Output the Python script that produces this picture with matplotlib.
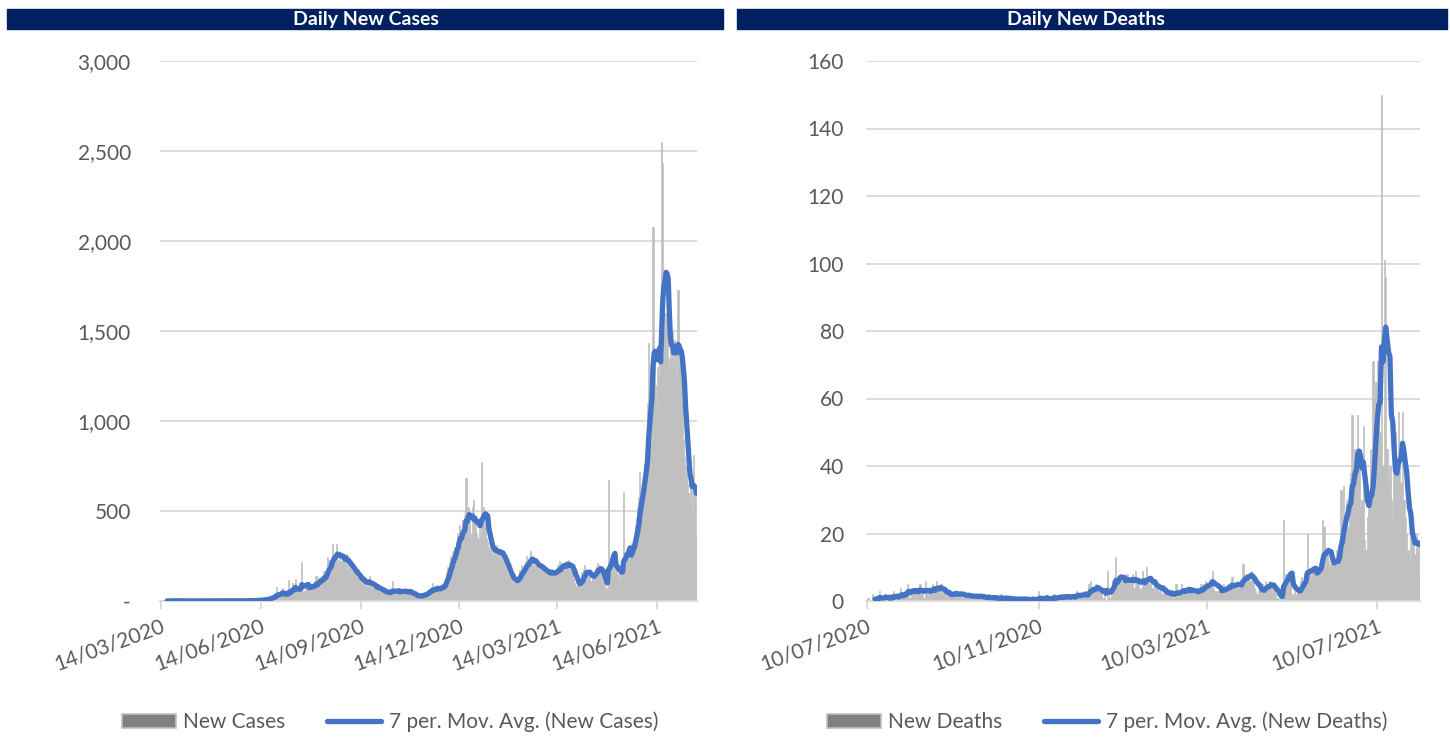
import matplotlib
matplotlib.use("Agg")
import matplotlib.pyplot as plt
import matplotlib.dates as mdates
from matplotlib.patches import Patch, Rectangle
from matplotlib.lines import Line2D
from matplotlib.ticker import FuncFormatter, MultipleLocator
import pandas as pd

# daily new cases from 14/03/2020, one row per week
cases_daily = [
    2, 0, 0, 0, 1, 0, 0,
    0, 1, 3, 0, 1, 2, 0,
    3, 1, 0, 0, 0, 1, 2,
    0, 0, 1, 0, 0, 0, 0,
    0, 0, 0, 0, 0, 0, 0,
    0, 0, 0, 0, 0, 0, 0,
    0, 0, 0, 0, 0, 0, 0,
    0, 0, 0, 0, 0, 0, 0,
    0, 0, 2, 0, 1, 0, 0,
    0, 3, 0, 0, 1, 2, 0,
    1, 0, 2, 0, 0, 1, 0,
    2, 0, 5, 3, 0, 4, 0,
    3, 1, 2, 8, 4, 0, 3,
    5, 7, 2, 9, 10, 4, 8,
    10, 15, 20, 12, 25, 30, 18,
    30, 25, 78, 35, 20, 45, 38,
    70, 35, 25, 40, 30, 22, 117,
    45, 60, 100, 40, 50, 122, 48,
    55, 60, 75, 62, 217, 48, 58,
    70, 85, 65, 100, 90, 55, 80,
    90, 75, 110, 140, 70, 130, 95,
    120, 140, 110, 165, 150, 125, 180,
    245, 230, 180, 230, 315, 210, 260,
    265, 317, 230, 210, 275, 220, 240,
    250, 230, 200, 260, 190, 210, 180,
    200, 170, 150, 190, 140, 130, 160,
    120, 140, 100, 110, 90, 130, 95,
    85, 110, 95, 140, 75, 90, 80,
    70, 90, 60, 75, 85, 55, 65,
    50, 60, 45, 55, 40, 50, 48,
    40, 55, 35, 110, 45, 50, 42,
    45, 60, 50, 70, 55, 40, 52,
    50, 65, 45, 55, 40, 62, 48,
    35, 30, 28, 40, 25, 20, 30,
    25, 35, 30, 28, 40, 45, 38,
    45, 60, 50, 70, 55, 100, 48,
    60, 55, 90, 70, 65, 80, 75,
    75, 90, 85, 130, 160, 190, 175,
    210, 250, 200, 280, 300, 260, 330,
    380, 350, 420, 400, 300, 450, 380,
    480, 683, 400, 520, 450, 350, 380,
    520, 560, 450, 420, 380, 350, 400,
    360, 772, 480, 520, 450, 410, 350,
    330, 300, 280, 320, 250, 270, 290,
    260, 310, 240, 290, 270, 230, 280,
    250, 220, 180, 200, 150, 140, 160,
    130, 110, 120, 95, 115, 100, 125,
    140, 170, 150, 200, 180, 160, 190,
    220, 250, 200, 230, 280, 210, 240,
    200, 180, 230, 190, 210, 170, 200,
    180, 160, 200, 150, 170, 140, 160,
    150, 170, 140, 180, 160, 130, 155,
    170, 200, 180, 220, 160, 210, 190,
    210, 180, 220, 190, 230, 170, 200,
    190, 160, 120, 100, 90, 80, 95,
    70, 110, 160, 140, 180, 200, 150,
    170, 120, 140, 160, 110, 150, 130,
    150, 180, 190, 210, 200, 170, 160,
    130, 110, 90, 70, 60, 80, 672,
    180, 220, 160, 250, 200, 170, 210,
    130, 150, 120, 200, 140, 180, 606,
    220, 180, 270, 230, 260, 300, 320,
    320, 300, 380, 420, 460, 520, 580,
    717, 560, 620, 700, 760, 820, 900,
    1100, 1433, 1150, 1250, 1200, 2078, 1400,
    1200, 1100, 1300, 1250, 1500, 1550, 2550,
    2433, 1650, 1500, 1600, 1450, 1350, 1300,
    1400, 1350, 1500, 1300, 1450, 1400, 1250,
    1728, 1300, 1350, 1250, 1200, 900, 800,
    750, 700, 650, 600, 550, 700, 500,
    811, 650, 620, 360,
]

# daily new deaths from 10/07/2020, one row per week
deaths_daily = [
    0, 1, 0, 0, 2, 0, 1,
    0, 1, 3, 0, 1, 0, 2,
    1, 0, 2, 1, 0, 3, 1,
    2, 1, 0, 4, 2, 1, 3,
    2, 5, 3, 1, 4, 3, 2,
    4, 3, 2, 5, 3, 2, 1,
    6, 2, 3, 4, 2, 5, 3,
    3, 6, 4, 2, 5, 3, 2,
    2, 1, 3, 2, 1, 2, 3,
    2, 3, 1, 2, 2, 1, 3,
    1, 2, 1, 2, 1, 1, 2,
    1, 2, 1, 1, 2, 1, 1,
    1, 1, 0, 2, 1, 1, 1,
    1, 0, 1, 1, 0, 2, 1,
    0, 1, 1, 0, 1, 0, 1,
    1, 0, 0, 1, 1, 0, 1,
    0, 1, 0, 1, 0, 0, 1,
    1, 0, 0, 0, 3, 1, 0,
    1, 0, 1, 1, 0, 1, 1,
    1, 2, 0, 1, 1, 1, 2,
    1, 1, 2, 1, 0, 2, 1,
    2, 1, 1, 3, 2, 1, 2,
    2, 1, 3, 2, 1, 5, 6,
    3, 4, 2, 5, 3, 4, 3,
    2, 1, 3, 0, 9, 2, 1,
    4, 6, 7, 13, 5, 6, 7,
    6, 5, 7, 6, 8, 5, 6,
    5, 8, 4, 9, 5, 6, 3,
    4, 9, 6, 5, 10, 7, 5,
    5, 4, 3, 6, 4, 5, 3,
    3, 2, 4, 2, 3, 1, 2,
    2, 3, 1, 2, 5, 2, 1,
    3, 5, 2, 4, 3, 3, 4,
    3, 2, 4, 2, 3, 3, 2,
    4, 5, 3, 5, 6, 4, 5,
    5, 6, 9, 4, 3, 2, 3,
    3, 4, 2, 5, 4, 3, 5,
    4, 5, 7, 3, 5, 4, 6,
    4, 5, 6, 11, 7, 8, 6,
    7, 6, 9, 8, 4, 3, 2,
    3, 4, 2, 5, 3, 6, 5,
    4, 6, 5, 3, 4, 2, 1,
    1, 0, 1, 0, 24, 8, 6,
    5, 7, 6, 2, 1, 3, 2,
    3, 4, 6, 7, 6, 8, 7,
    20, 6, 8, 7, 9, 10, 8,
    10, 9, 11, 12, 24, 22, 10,
    14, 12, 9, 11, 10, 13, 12,
    15, 12, 18, 33, 20, 34, 25,
    30, 22, 33, 38, 55, 40, 45,
    38, 55, 40, 28, 30, 52, 18,
    15, 25, 30, 45, 35, 71, 60,
    65, 71, 60, 50, 150, 40, 101,
    96, 45, 35, 40, 30, 25, 45,
    50, 40, 56, 45, 35, 56, 30,
    25, 20, 15, 12, 22, 19, 18,
    14, 20, 16, 8,
]

cases_start = "2020-03-14"
deaths_start = "2020-07-10"
cases_ticks = ["2020-03-14", "2020-06-14", "2020-09-14", "2020-12-14", "2021-03-14", "2021-06-14"]
deaths_ticks = ["2020-07-10", "2020-11-10", "2021-03-10", "2021-07-10"]

W, H = 1450, 738
NAVY = "#002060"
BAR = "#BFBFBF"
LINE = "#4472C4"
GRID = "#D9D9D9"
TEXT = "#595959"
FONT = "Lato"
FS = 15

plt.rcParams["font.family"] = [FONT, "DejaVu Sans"]

fig = plt.figure(figsize=(W / 100, H / 100), dpi=100)


def fig_box(x0, y0, x1, y1):
    # pixel box (top-left origin) -> figure fraction rect
    return [x0 / W, 1 - y1 / H, (x1 - x0) / W, (y1 - y0) / H]


def panel(box, start, values, ticks, ymax, ystep, fmt, title, banner, label, legend_cx, label_pad):
    ax = fig.add_axes(fig_box(*box))
    dates = pd.date_range(start, periods=len(values), freq="D")
    avg = pd.Series(values, index=dates).rolling(7).mean()

    ax.bar(dates, values, width=1.0, color=BAR, edgecolor=BAR, linewidth=0.5, zorder=2)
    ax.plot(dates, avg.values, color=LINE, linewidth=3.8, solid_capstyle="round",
            solid_joinstyle="round", zorder=3)

    ax.set_xlim(mdates.date2num(dates[0]) - 0.5, mdates.date2num(dates[-1]) + 0.5)
    ax.set_ylim(0, ymax)
    ax.yaxis.set_major_locator(MultipleLocator(ystep))
    ax.yaxis.set_major_formatter(FuncFormatter(fmt))
    ax.grid(axis="y", color=GRID, linewidth=1.3)
    ax.set_axisbelow(True)

    ax.set_xticks(pd.to_datetime(ticks))
    ax.xaxis.set_major_formatter(mdates.DateFormatter("%d/%m/%Y"))
    for t in ax.get_xticklabels():
        t.set_rotation(20)
        t.set_ha("right")
        t.set_va("top")
        t.set_rotation_mode("anchor")

    for side in ("top", "right", "left"):
        ax.spines[side].set_visible(False)
    ax.spines["bottom"].set_color(GRID)
    ax.spines["bottom"].set_linewidth(1.3)
    ax.tick_params(axis="x", colors=GRID, labelcolor=TEXT, labelsize=FS, length=6, width=1.3, pad=5)
    ax.tick_params(axis="y", length=0, labelcolor=TEXT, labelsize=FS, pad=label_pad)

    # title banner
    x0, x1, tx = banner
    fig.add_artist(Rectangle((x0 / W, 1 - 29 / H), (x1 - x0) / W, 20 / H,
                             transform=fig.transFigure, color=NAVY, zorder=0))
    fig.text(tx / W, 1 - 19.5 / H, title, color="white", fontsize=14,
             fontweight="bold", ha="center", va="center")

    handles = [Patch(facecolor="#808080", edgecolor="#BFBFBF", linewidth=1.2),
               Line2D([0], [0], color=LINE, linewidth=3.8, solid_capstyle="round")]
    fig.legend(handles, [label, f"7 per. Mov. Avg. ({label})"], loc="center",
               bbox_to_anchor=(legend_cx / W, 1 - 722 / H), ncol=2, frameon=False,
               fontsize=FS, labelcolor=TEXT, handlelength=2.6, handleheight=0.65,
               handletextpad=0.35, columnspacing=2.0)
    return ax


panel((160, 61, 697, 601), cases_start, cases_daily, cases_ticks, 3000, 500,
      lambda v, p: "-" if v == 0 else f"{v:,.0f}", "Daily New Cases",
      (7, 723, 366), "New Cases", 390, 21)
panel((866, 61, 1420, 601), deaths_start, deaths_daily, deaths_ticks, 160, 20,
      lambda v, p: f"{v:.0f}", "Daily New Deaths",
      (737, 1447, 1086), "New Deaths", 1107, 16)

fig.savefig("out.png", dpi=100, facecolor="white")
